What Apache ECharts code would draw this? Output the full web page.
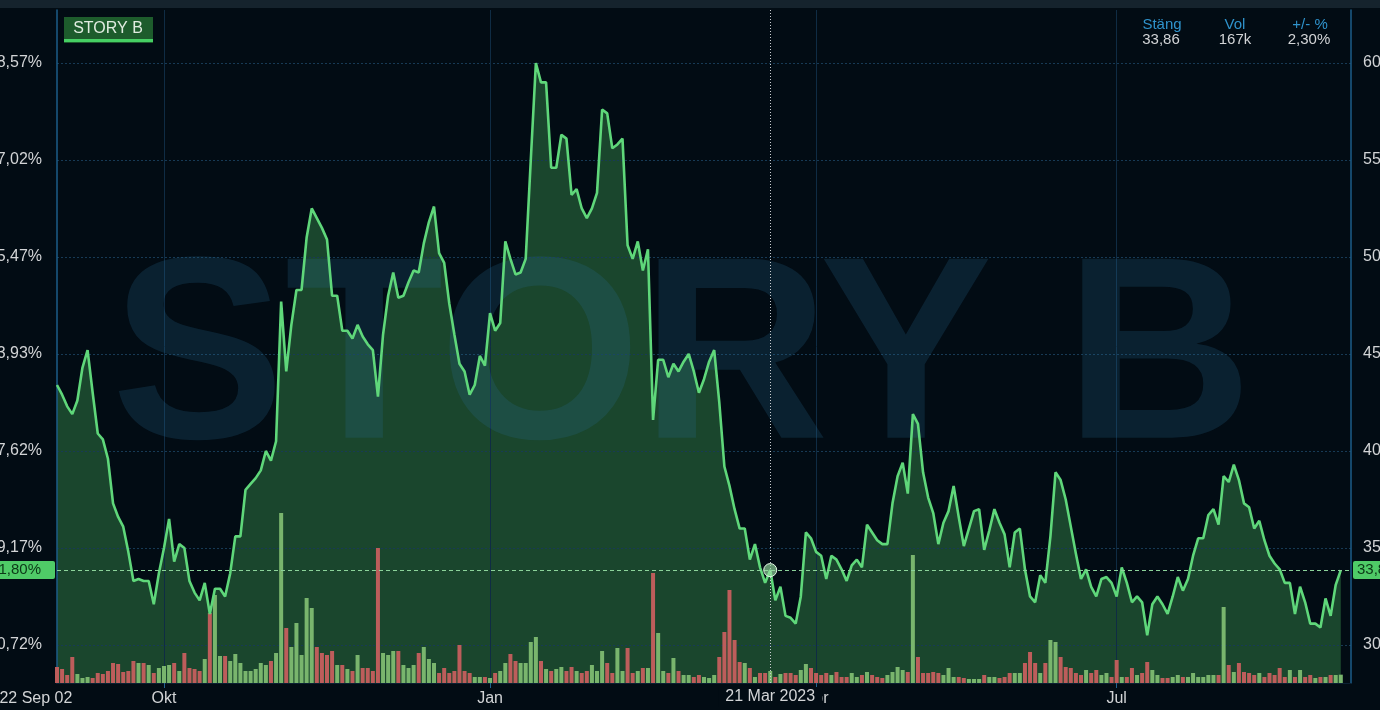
<!DOCTYPE html>
<html>
<head>
<meta charset="utf-8">
<title>STORY B</title>
<script src="https://cdn.jsdelivr.net/npm/echarts@6.0.0/dist/echarts.min.js"></script>
<style>
  html, body { margin: 0; padding: 0; background: #020c14; }
  #chart { width: 1380px; height: 710px; }
</style>
</head>
<body>
<div id="chart"></div>
<script>
// trading sessions (Stockholm), Sep 2022 -> Sep 2023
const firstDay = "2022-09-02";
const dayCount = 255; // two empty sessions after the last close
const closedDays = ["2022-12-26", "2023-01-06", "2023-04-07", "2023-04-10",
  "2023-05-01", "2023-05-18", "2023-06-06", "2023-06-23"];

// daily close, SEK
const closePrices = [
  43.4, 42.9, 42.3, 41.9, 42.6, 44.3, 45.2, 43.0, 40.9, 40.6,
  39.6, 37.3, 36.6, 36.1, 34.8, 33.3, 33.4, 33.3, 33.3, 32.1,
  33.7, 35.0, 36.5, 34.3, 35.2, 35.0, 33.3, 32.7, 32.3, 33.2,
  31.6, 32.9, 32.9, 32.5, 33.7, 35.6, 35.6, 38.0, 38.3, 38.6,
  39.0, 40.0, 39.5, 40.5, 47.7, 44.1, 46.5, 48.3, 48.3, 51.0,
  52.5, 52.0, 51.5, 50.9, 48.0, 48.0, 46.2, 46.2, 45.8, 46.5,
  45.9, 45.5, 45.2, 42.8, 46.0, 48.0, 49.2, 47.9, 48.0, 48.7,
  49.3, 49.2, 50.7, 51.8, 52.6, 50.2, 49.7, 47.6, 46.0, 44.5,
  44.1, 42.9, 43.4, 44.9, 44.4, 47.1, 46.2, 46.6, 50.8, 49.9,
  49.1, 49.2, 49.9, 55.0, 60.0, 59.0, 59.0, 54.6, 54.6, 56.3,
  56.1, 53.2, 53.5, 52.5, 52.0, 52.5, 53.3, 57.6, 57.4, 55.6,
  55.8, 56.1, 50.6, 49.9, 50.8, 49.3, 50.4, 41.6, 44.7, 44.7,
  43.8, 44.5, 44.1, 44.6, 45.0, 44.1, 43.0, 43.7, 44.6, 45.2,
  42.5, 39.2, 38.2, 37.0, 36.0, 36.0, 34.4, 35.2, 34.0, 33.2,
  33.86, 32.3, 33.0, 31.5, 31.4, 31.1, 32.5, 35.8, 35.5, 34.8,
  34.6, 33.4, 34.6, 34.4, 33.9, 33.3, 34.1, 34.4, 34.0, 36.2,
  35.8, 35.4, 35.2, 35.2, 37.3, 38.7, 39.4, 37.8, 41.9, 41.4,
  38.9, 37.6, 36.8, 35.2, 36.3, 36.9, 38.2, 36.6, 35.1, 36.0,
  36.9, 37.0, 34.9, 35.9, 37.0, 36.3, 35.7, 34.0, 35.8, 36.0,
  33.9, 32.5, 32.2, 33.6, 33.2, 35.6, 38.9, 38.5, 37.5, 36.1,
  34.7, 33.4, 33.9, 33.0, 32.5, 33.4, 33.5, 33.2, 32.5, 34.0,
  33.2, 32.2, 32.5, 32.2, 30.5, 32.1, 32.5, 32.1, 31.6, 32.5,
  33.5, 32.8, 33.4, 34.6, 35.5, 35.5, 36.7, 37.0, 36.2, 38.7,
  38.4, 39.3, 38.5, 37.3, 37.1, 36.0, 36.4, 35.4, 34.6, 34.2,
  33.9, 33.2, 33.2, 31.6, 33.0, 32.2, 31.1, 31.1, 30.9, 32.4,
  31.5, 33.1, 33.86
];

// daily volume, thousands of shares
const volumes = [
  320, 280, 160, 520, 180, 100, 120, 100, 200, 180,
  240, 400, 380, 220, 240, 440, 400, 400, 360, 200,
  300, 340, 360, 400, 240, 600, 300, 280, 240, 480,
  1400, 1760, 540, 540, 440, 580, 400, 240, 240, 280,
  400, 360, 440, 600, 3400, 1100, 720, 1200, 560, 1700,
  1500, 720, 600, 560, 640, 360, 360, 280, 240, 560,
  300, 300, 240, 2700, 600, 560, 640, 640, 360, 300,
  360, 600, 720, 480, 400, 200, 300, 200, 240, 760,
  240, 200, 120, 120, 120, 100, 200, 240, 400, 580,
  440, 400, 400, 820, 920, 440, 280, 240, 280, 320,
  240, 320, 240, 200, 240, 360, 240, 640, 400, 200,
  700, 240, 700, 200, 240, 300, 300, 2200, 1000, 240,
  200, 500, 240, 160, 160, 120, 160, 120, 100, 160,
  520, 1020, 1860, 860, 420, 400, 300, 120, 200, 200,
  240, 120, 180, 200, 200, 160, 260, 380, 300, 200,
  160, 200, 160, 220, 120, 120, 200, 120, 160, 220,
  160, 120, 100, 160, 220, 320, 260, 220, 2560, 520,
  200, 200, 220, 200, 160, 300, 120, 120, 100, 80,
  80, 80, 160, 120, 120, 100, 120, 200, 200, 200,
  400, 620, 400, 200, 400, 860, 820, 520, 320, 300,
  200, 160, 260, 200, 260, 160, 200, 120, 460, 120,
  120, 300, 160, 200, 420, 260, 160, 100, 100, 120,
  160, 120, 120, 200, 120, 120, 160, 160, 160, 1520,
  360, 220, 400, 220, 200, 160, 200, 120, 200, 160,
  300, 120, 260, 120, 260, 120, 160, 100, 120, 120,
  160, 160, 167
];

// axis texts
const priceTicks = [30, 35, 40, 45, 50, 55, 60];
const pctLabels = ["-30,72%", "-19,17%", "-7,62%", "+3,93%", "+15,47%", "+27,02%", "+38,57%"];
const monthTicks = { 21: "Okt", 85: "Jan", 149: "Apr", 208: "Jul" };
const firstLabel = "2022 Sep 02";

// header / cursor
const lastClose = 33.86;
const lastCloseText = "33,86";
const lastPctText = "-21,80%";
const lastVolText = "167k";
const changeText = "2,30%";
const cursorDate = "2023-03-21";
const cursorText = "21 Mar 2023";

const FONT = "'Liberation Sans', Arial, sans-serif";
const TEXT = "#d2d4d6";

function tradingDays(start, count, closed) {
  const out = [];
  const d = new Date(start + "T12:00:00Z");
  while (out.length < count) {
    const wd = d.getUTCDay();
    const s = d.toISOString().slice(0, 10);
    if (wd !== 0 && wd !== 6 && closed.indexOf(s) < 0) out.push(s);
    d.setUTCDate(d.getUTCDate() + 1);
  }
  return out;
}
const dates = tradingDays(firstDay, dayCount, closedDays);

// volume bars coloured by the day's move
const volBars = volumes.map((v, i) => ({
  value: v,
  itemStyle: {
    color: i > 0 && closePrices[i] >= closePrices[i - 1] ? "#79b56d" : "#bd5d5b"
  }
}));

const isMonth = (idx) => monthTicks[idx] !== undefined;
const tagLabel = {
  show: true,
  color: "#0c3817",
  backgroundColor: "#4fcb67",
  fontSize: 15,
  fontFamily: FONT,
  padding: [2, 4, 1, 4],
  borderRadius: 2
};

const chart = echarts.init(document.getElementById("chart"));
chart.setOption({
  backgroundColor: "#020c14",
  animation: false,
  grid: { left: 57, right: 29, top: 10, bottom: 27, containLabel: false, outerBoundsMode: "none" },
  xAxis: {
    type: "category",
    data: dates,
    boundaryGap: false,
    z: 1.2,
    axisLine: { show: true, lineStyle: { color: "#0b2033" } },
    axisTick: {
      show: true,
      interval: (idx) => isMonth(idx),
      length: 5,
      lineStyle: { color: "#1f6391" }
    },
    axisLabel: {
      interval: (idx) => idx === 0 || isMonth(idx),
      formatter: (v, idx) => (idx === 0 ? "{s|" + firstLabel + "}" : monthTicks[idx]),
      color: TEXT,
      fontSize: 16,
      fontFamily: FONT,
      margin: 8,
      rich: { s: { color: TEXT, fontSize: 16, fontFamily: FONT, padding: [0, 60, 0, 0] } }
    },
    splitLine: {
      show: true,
      interval: (idx) => isMonth(idx),
      lineStyle: { color: "#0f2c44", width: 1 }
    }
  },
  yAxis: [
    {
      // price, right side
      type: "value",
      position: "right",
      min: 28.04,
      max: 62.73,
      z: 1.2,
      axisLine: { show: true, lineStyle: { color: "#1d5d88", width: 1.5 } },
      axisTick: { show: false, customValues: priceTicks },
      axisLabel: { customValues: priceTicks, color: TEXT, fontSize: 16, fontFamily: FONT, margin: 12 },
      splitLine: { show: true, lineStyle: { color: "#173a55", type: [2, 2] } }
    },
    {
      // change vs reference, left side
      type: "value",
      position: "left",
      min: 28.04,
      max: 62.73,
      z: 1.2,
      axisLine: { show: true, lineStyle: { color: "#1d5d88", width: 1.5 } },
      axisTick: { show: false, customValues: priceTicks },
      axisLabel: {
        customValues: priceTicks,
        formatter: (v) => pctLabels[priceTicks.indexOf(Math.round(v))],
        color: TEXT,
        fontSize: 16,
        fontFamily: FONT,
        margin: 15
      },
      splitLine: { show: false }
    },
    { type: "value", min: 0, max: 13460, show: false }
  ],
  graphic: [
    { type: "rect", shape: { x: 0, y: 0, width: 1380, height: 8 }, style: { fill: "#15232d" }, z: 0 },
    {
      // watermark
      type: "text",
      x: 682,
      y: 366,
      z: 1.5,
      silent: true,
      style: {
        text: "STORY B",
        font: "bold 260px " + FONT,
        fill: "rgba(40,110,150,0.22)",
        align: "center",
        verticalAlign: "middle"
      }
    },
    { type: "rect", shape: { x: 64, y: 17, width: 89, height: 26 }, style: { fill: "#1d5c2c" }, z: 5 },
    { type: "rect", shape: { x: 64, y: 39, width: 89, height: 3 }, style: { fill: "#46d064" }, z: 6 },
    {
      type: "text", x: 108, y: 29, z: 6,
      style: { text: "STORY B", fill: "#e0ece0", font: "16px " + FONT, align: "center", verticalAlign: "middle" }
    },
    { type: "text", x: 1162, y: 25, z: 6, style: { text: "Stäng", fill: "#2f93cc", font: "15px " + FONT, align: "center", verticalAlign: "middle" } },
    { type: "text", x: 1161, y: 40, z: 6, style: { text: lastCloseText, fill: TEXT, font: "15px " + FONT, align: "center", verticalAlign: "middle" } },
    { type: "text", x: 1235, y: 25, z: 6, style: { text: "Vol", fill: "#2f93cc", font: "15px " + FONT, align: "center", verticalAlign: "middle" } },
    { type: "text", x: 1235, y: 40, z: 6, style: { text: lastVolText, fill: TEXT, font: "15px " + FONT, align: "center", verticalAlign: "middle" } },
    { type: "text", x: 1310, y: 25, z: 6, style: { text: "+/- %", fill: "#2f93cc", font: "15px " + FONT, align: "center", verticalAlign: "middle" } },
    { type: "text", x: 1309, y: 40, z: 6, style: { text: changeText, fill: TEXT, font: "15px " + FONT, align: "center", verticalAlign: "middle" } }
  ],
  series: [
    {
      name: "fill",
      type: "line",
      data: closePrices,
      yAxisIndex: 0,
      z: 1,
      silent: true,
      showSymbol: false,
      lineStyle: { width: 0 },
      areaStyle: { color: "#1a462d", opacity: 1, origin: "start" }
    },
    {
      name: "Vol",
      type: "bar",
      data: volBars,
      yAxisIndex: 2,
      barWidth: 4,
      z: 2,
      silent: true
    },
    {
      name: "STORY B",
      type: "line",
      data: closePrices,
      yAxisIndex: 0,
      z: 3,
      showSymbol: false,
      lineStyle: { color: "#5fd77a", width: 2.6 },
      markLine: {
        silent: true,
        symbol: ["none", "none"],
        data: [
          {
            yAxis: lastClose,
            lineStyle: { color: "#8cd39a", type: [4, 3], width: 1 },
            label: Object.assign({}, tagLabel, { position: "end", formatter: lastCloseText, distance: 2 })
          },
          {
            yAxis: lastClose,
            lineStyle: { color: "#8cd39a", type: [4, 3], width: 1 },
            label: Object.assign({}, tagLabel, { position: "start", formatter: lastPctText, distance: 2, padding: [2, 14, 1, 4] })
          },
          {
            xAxis: cursorDate,
            lineStyle: { color: "#c9cdd0", type: [1, 2], width: 1 },
            label: {
              show: true,
              position: "start",
              formatter: cursorText,
              color: TEXT,
              fontSize: 16,
              fontFamily: FONT,
              backgroundColor: "#020c14",
              padding: [2, 7, 2, 7],
              distance: 4
            }
          }
        ]
      },
      markPoint: {
        silent: true,
        symbol: "circle",
        symbolSize: 13,
        label: { show: false },
        itemStyle: { color: "rgba(150,220,160,0.65)", borderColor: "#e6fbe8", borderWidth: 1 },
        data: [{ coord: [cursorDate, lastClose] }]
      }
    }
  ]
});
</script>
</body>
</html>
